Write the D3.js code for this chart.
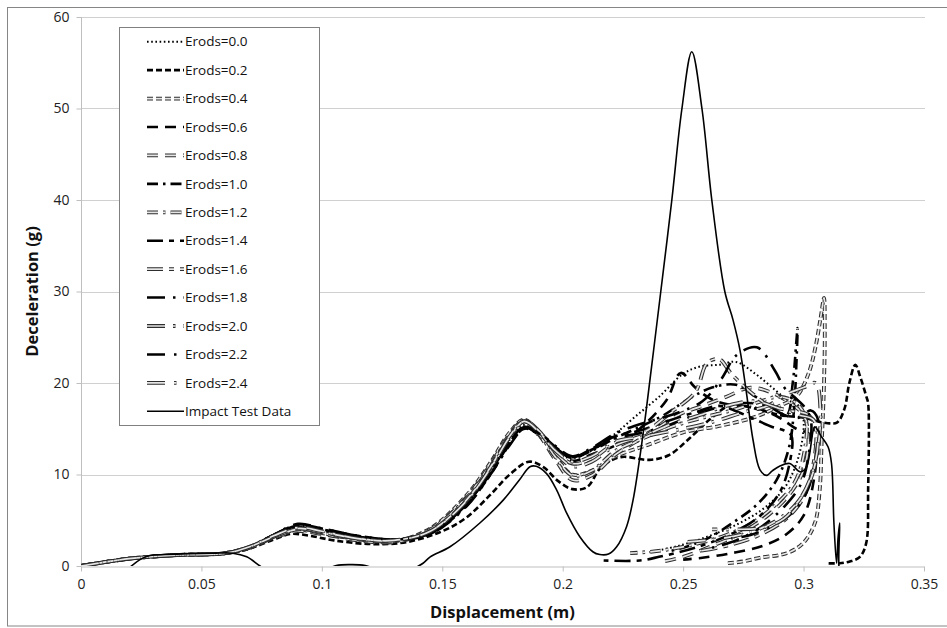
<!DOCTYPE html>
<html><head><meta charset="utf-8">
<script src="https://cdn.jsdelivr.net/npm/d3@7"></script>
<style>body{margin:0;background:#fff}svg{display:block}text{font-family:"Open Sans","Noto Sans",sans-serif}</style>
</head><body><svg id="c" width="947" height="628"></svg>
<script>
const seriesNames = ["Erods=0.0","Erods=0.2","Erods=0.4","Erods=0.6","Erods=0.8","Erods=1.0","Erods=1.2","Erods=1.4","Erods=1.6","Erods=1.8","Erods=2.0","Erods=2.2","Erods=2.4","Impact Test Data"];
const xTickValues = [0,0.05,0.1,0.15,0.2,0.25,0.3,0.35];
const xTickLabels = ["0","0.05","0.1","0.15","0.2","0.25","0.3","0.35"];
const yTickValues = [0,10,20,30,40,50,60];
const yTickLabels = ["0","10","20","30","40","50","60"];

const erods00 = [[0,0],[0.02,0.8],[0.04,1.2],[0.06,1.4],[0.07,2.1],[0.08,3.3],[0.09,4.2],[0.1,3.7],[0.115,3.0],[0.13,2.8],[0.145,3.8],[0.16,7.0],[0.17,10.5],[0.178,13.8],[0.184,15.4],[0.19,14.2],[0.197,12.4],[0.204,11.8],[0.212,12.6],[0.222,14.5],[0.23,16.3],[0.24,18.5],[0.25,21.0],[0.257,21.8],[0.265,22.0],[0.272,22.3],[0.28,21.0],[0.287,19.5],[0.293,18.2],[0.298,17.5],[0.3,16],[0.298,12],[0.292,8.5],[0.283,6.2],[0.272,4.5],[0.26,3.2],[0.248,2.2],[0.236,1.5]];
const erods02 = [[0,0],[0.02,0.8],[0.04,1.2],[0.06,1.35],[0.07,1.9],[0.08,2.9],[0.087,3.5],[0.095,3.3],[0.105,2.8],[0.12,2.4],[0.135,2.6],[0.15,3.8],[0.16,5.3],[0.17,7.8],[0.178,10.0],[0.186,11.4],[0.192,10.8],[0.198,9.3],[0.204,8.4],[0.21,8.6],[0.216,10.8],[0.224,11.9],[0.236,11.6],[0.244,12.1],[0.252,13.8],[0.261,16.0],[0.27,17.6],[0.28,17.2],[0.29,16.5],[0.3,16.2],[0.31,15.6],[0.314,15.7],[0.317,17.2],[0.319,20],[0.3215,22],[0.3235,20.7],[0.3262,18.4],[0.3268,17.8],[0.3268,8.3],[0.326,2.5],[0.3234,1.0],[0.3192,0.5],[0.315,0.3],[0.3095,0.3]];
const erods04 = [[0,0],[0.02,0.8],[0.04,1.2],[0.06,1.4],[0.07,2.0],[0.08,3.1],[0.09,3.9],[0.1,3.6],[0.115,2.9],[0.13,2.7],[0.145,4.1],[0.16,7.7],[0.17,11.3],[0.178,14.6],[0.184,16.0],[0.19,14.6],[0.197,12.0],[0.204,10.0],[0.212,10.4],[0.222,12.0],[0.235,13.2],[0.25,14.6],[0.265,15.3],[0.28,16.3],[0.29,17.5],[0.297,18.5],[0.302,21],[0.305,24],[0.307,27],[0.3085,29.3],[0.3088,26],[0.3085,20],[0.3078,15],[0.3075,13.4],[0.3067,8.3],[0.3047,4.7],[0.2998,2.5],[0.293,1.4],[0.2818,0.9],[0.275,0.5],[0.268,0.3]];
const erods06 = [[0,0],[0.02,0.8],[0.04,1.2],[0.06,1.4],[0.07,2.1],[0.08,3.3],[0.09,4.3],[0.1,3.9],[0.115,3.1],[0.13,2.8],[0.145,3.6],[0.16,6.8],[0.17,10.3],[0.178,13.6],[0.184,15.2],[0.19,14.3],[0.197,12.6],[0.204,11.5],[0.212,12.2],[0.222,13.2],[0.232,15.0],[0.243,18.1],[0.249,21.1],[0.255,19.5],[0.262,18.2],[0.27,17.6],[0.28,17.3],[0.29,16.2],[0.297,15.0],[0.302,14.5],[0.305,13],[0.304,9],[0.3,5.5],[0.293,3.5],[0.283,2.2],[0.27,1.4],[0.258,0.9],[0.25,0.7]];
const erods08 = [[0,0],[0.02,0.8],[0.04,1.2],[0.06,1.4],[0.07,2.0],[0.08,3.1],[0.09,3.8],[0.1,3.5],[0.115,2.8],[0.13,2.6],[0.145,3.9],[0.16,7.5],[0.17,11.1],[0.178,14.4],[0.184,15.9],[0.19,14.4],[0.197,11.6],[0.204,9.4],[0.212,9.9],[0.222,12.2],[0.235,14.3],[0.248,16.5],[0.258,17.5],[0.268,18.5],[0.278,19.5],[0.288,18.8],[0.296,17.5],[0.3,16.5],[0.302,14],[0.3,10.5],[0.294,7.8],[0.285,5.5],[0.274,3.6],[0.262,2.2],[0.25,1.0],[0.24,0.4]];
const erods10 = [[0,0],[0.02,0.8],[0.04,1.2],[0.06,1.4],[0.07,2.1],[0.08,3.4],[0.09,4.4],[0.1,4.0],[0.115,3.2],[0.13,2.9],[0.145,3.5],[0.16,6.6],[0.17,10.0],[0.178,13.3],[0.184,15.0],[0.19,14.4],[0.197,12.9],[0.204,11.9],[0.212,12.6],[0.222,14.0],[0.232,15.2],[0.242,16.5],[0.252,18.2],[0.262,19.5],[0.272,19.8],[0.28,18.5],[0.288,17.2],[0.293,16.5],[0.2955,20],[0.297,24.5],[0.2975,26],[0.297,22],[0.296,17],[0.294,13],[0.289,9.5],[0.281,6.8],[0.271,4.8],[0.26,3.0],[0.25,2.0],[0.244,1.6]];
const erods12 = [[0,0],[0.02,0.8],[0.04,1.2],[0.06,1.4],[0.07,2.0],[0.08,3.2],[0.09,4.0],[0.1,3.6],[0.115,2.9],[0.13,2.7],[0.145,4.0],[0.16,7.4],[0.17,10.9],[0.178,14.2],[0.184,15.8],[0.19,14.5],[0.197,11.9],[0.204,9.9],[0.212,10.4],[0.222,12.6],[0.232,13.8],[0.245,15.2],[0.258,16.2],[0.27,17],[0.28,17.8],[0.29,18.5],[0.297,17.8],[0.301,16],[0.3,12],[0.296,9],[0.288,6.6],[0.278,4.6],[0.266,3.2],[0.252,2.2],[0.238,1.6],[0.228,1.4]];
const erods14 = [[0,0],[0.02,0.8],[0.04,1.2],[0.06,1.4],[0.07,2.1],[0.08,3.4],[0.09,4.5],[0.1,4.0],[0.115,3.2],[0.13,2.9],[0.145,3.6],[0.16,6.8],[0.17,10.2],[0.178,13.5],[0.184,15.2],[0.19,14.6],[0.197,13.0],[0.204,11.9],[0.212,12.8],[0.222,14.2],[0.232,14.8],[0.243,15.8],[0.255,16.8],[0.265,17.5],[0.273,16.8],[0.28,16.0],[0.287,15.2],[0.292,14.8],[0.295,14.2],[0.294,11],[0.29,8],[0.282,5.5],[0.27,3.5],[0.255,2.0],[0.24,1.0],[0.232,0.6],[0.217,0.6]];
const erods16 = [[0,0],[0.02,0.8],[0.04,1.2],[0.06,1.4],[0.07,2.1],[0.08,3.2],[0.09,4.0],[0.1,3.7],[0.115,3.0],[0.13,2.8],[0.145,3.8],[0.16,7.1],[0.17,10.7],[0.178,14.1],[0.184,15.8],[0.19,14.7],[0.197,12.5],[0.204,11.2],[0.212,11.7],[0.222,13.5],[0.235,14.8],[0.245,16.8],[0.255,19],[0.26,22.2],[0.265,22.6],[0.27,21],[0.278,19],[0.286,17.5],[0.294,17],[0.302,16.5],[0.305,15],[0.304,11],[0.3,7.5],[0.292,5],[0.28,3.2],[0.268,2.2],[0.256,1.6]];
const erods18 = [[0,0],[0.02,0.8],[0.04,1.2],[0.06,1.4],[0.07,2.1],[0.08,3.4],[0.09,4.6],[0.1,4.1],[0.115,3.3],[0.13,2.9],[0.145,3.5],[0.16,6.5],[0.17,10.0],[0.178,13.2],[0.184,15.0],[0.19,14.6],[0.197,13.1],[0.204,12.0],[0.212,12.9],[0.222,14.5],[0.232,15.5],[0.245,16.5],[0.258,18],[0.266,20.5],[0.272,23.0],[0.2806,23.9],[0.288,21.4],[0.292,19.5],[0.296,18.5],[0.3,17.5],[0.303,16],[0.302,12],[0.299,9],[0.292,6.5],[0.282,4.2],[0.272,2.8],[0.262,2.0]];
const erods20 = [[0,0],[0.02,0.8],[0.04,1.2],[0.06,1.4],[0.07,2.1],[0.08,3.2],[0.09,4.1],[0.1,3.7],[0.115,3.0],[0.13,2.8],[0.145,3.8],[0.16,7.2],[0.17,10.8],[0.178,14.2],[0.184,15.9],[0.19,14.8],[0.197,12.4],[0.204,10.9],[0.212,11.4],[0.222,13.2],[0.235,14.2],[0.25,15],[0.263,15.8],[0.275,16.8],[0.285,17.5],[0.293,18.8],[0.3,19.5],[0.305,20],[0.307,17],[0.306,13],[0.303,9.5],[0.297,6.8],[0.289,5.0],[0.279,3.8],[0.266,3.0],[0.25,2.6]];
const erods22 = [[0,0],[0.02,0.8],[0.04,1.2],[0.06,1.4],[0.07,2.1],[0.08,3.4],[0.09,4.5],[0.1,4.1],[0.115,3.3],[0.13,2.9],[0.145,3.6],[0.16,6.7],[0.17,10.1],[0.178,13.4],[0.184,15.1],[0.19,14.5],[0.197,12.9],[0.204,11.8],[0.212,12.7],[0.222,14.0],[0.232,14.5],[0.245,15.5],[0.26,17],[0.275,17.8],[0.285,17.5],[0.292,16.5],[0.298,16.2],[0.303,17],[0.306,16],[0.305,12],[0.302,8.5],[0.296,6],[0.288,4.5],[0.278,3.4],[0.27,3.0]];
const erods24 = [[0,0],[0.02,0.8],[0.04,1.2],[0.06,1.4],[0.07,2.1],[0.08,3.3],[0.09,4.2],[0.1,3.8],[0.115,3.0],[0.13,2.8],[0.145,3.8],[0.16,7.1],[0.17,10.7],[0.178,14.1],[0.184,15.8],[0.19,14.7],[0.197,12.6],[0.204,11.4],[0.212,12.0],[0.222,13.6],[0.233,14.2],[0.245,15.5],[0.257,16.5],[0.268,17.5],[0.28,18],[0.29,17.2],[0.298,16.5],[0.304,16],[0.306,14],[0.304,10.5],[0.299,7.5],[0.292,5.2],[0.283,4.2],[0.272,4.0],[0.262,4.0]];
const impactTest = [[0.0196,-0.3],[0.0245,0.7],[0.0287,1.15],[0.035,1.25],[0.045,1.35],[0.055,1.4],[0.063,1.4],[0.0688,1.0],[0.0743,0],[0.08,-1.0],[0.09,-1.4],[0.1,-0.6],[0.106,0.05],[0.112,0.15],[0.118,0.05],[0.125,-0.6],[0.132,-1.0],[0.138,-0.3],[0.142,0.3],[0.145,1.0],[0.1532,2.1],[0.1656,4.7],[0.1753,7.2],[0.182,9.4],[0.1864,10.85],[0.189,10.9],[0.1933,10.1],[0.1975,8.3],[0.2016,5.8],[0.2071,3.2],[0.2125,1.56],[0.2154,1.25],[0.219,1.3],[0.2224,2.1],[0.2265,4.3],[0.2292,7.2],[0.2334,14.5],[0.2369,21.8],[0.2403,29.1],[0.2453,40],[0.2495,50],[0.2536,56.2],[0.2578,50],[0.2619,40],[0.2673,30],[0.2707,26.9],[0.2736,23.6],[0.2763,18.9],[0.279,13.8],[0.2819,10.5],[0.2846,9.9],[0.287,10.4],[0.29,10.9],[0.2943,11.2],[0.2985,10.3],[0.301,10.7],[0.304,14.8],[0.3047,15.2],[0.3075,14.1],[0.3102,13.0],[0.3116,11.2],[0.3126,4.7],[0.3137,0.3],[0.3143,3],[0.315,4.7],[0.3147,-0.1],[0.316,-2]];

const seriesData = [erods00,erods02,erods04,erods06,erods08,erods10,erods12,erods14,erods16,erods18,erods20,erods22,erods24,impactTest];

const styles = [
  {kind:"black", w:2, dash:"1.6,2.6"},
  {kind:"black", w:2.6, dash:"6,3"},
  {kind:"grey", dash:"6,3"},
  {kind:"black", w:2.6, dash:"11,7"},
  {kind:"grey", dash:"11,7"},
  {kind:"black", w:2.6, dash:"11,5,2.5,5"},
  {kind:"grey", dash:"11,5,2.5,5"},
  {kind:"black", w:2.6, dash:"16,6,5,6"},
  {kind:"grey", dash:"16,6,5,6"},
  {kind:"black", w:2.6, dash:"18,8,2.5,8"},
  {kind:"grey", dash:"18,8,2.5,8"},
  {kind:"black", w:2.6, dash:"18,9,2.5,9"},
  {kind:"grey", dash:"18,9,2.5,9"},
  {kind:"solid", w:1.6, dash:null}
];

const svg = d3.select("#c");
const L=81, R=924, T=17, B=566;
const x = d3.scaleLinear().domain([0,0.35]).range([L,R]);
const y = d3.scaleLinear().domain([0,60]).range([B,T]);

svg.append("rect").attr("x",7.5).attr("y",7.5).attr("width",960).attr("height",618.5)
  .attr("fill","none").attr("stroke","#868686").attr("stroke-width",1);

svg.append("g").selectAll("line").data(yTickValues.filter(v=>v>0)).join("line")
  .attr("x1",L).attr("x2",R+1).attr("y1",d=>Math.round(y(d))+0.5).attr("y2",d=>Math.round(y(d))+0.5)
  .attr("stroke","#d0d0d0").attr("stroke-width",1);

const xAxis = d3.axisBottom(x).tickValues(xTickValues).tickFormat((d,i)=>xTickLabels[i]).tickSize(5).tickPadding(8).tickSizeOuter(0);
const gx = svg.append("g").attr("transform",`translate(0,${B+0.5})`).call(xAxis);
const yAxis = d3.axisLeft(y).tickValues(yTickValues).tickFormat((d,i)=>yTickLabels[i]).tickSize(5).tickPadding(7).tickSizeOuter(0);
const gy = svg.append("g").attr("transform",`translate(${L+0.5},0)`).call(yAxis);
[gx,gy].forEach(g=>{
  g.select(".domain").attr("stroke","#bfbfbf");
  g.selectAll(".tick line").attr("stroke","#bfbfbf");
  g.selectAll(".tick text").attr("fill","#222").style("font-size","14px").style("font-family","'Open Sans',sans-serif");
});
gy.select(".domain").attr("d",`M0,${y(60)}V${B}`);

svg.append("text").attr("x",(L+R)/2).attr("y",618).attr("text-anchor","middle")
  .style("font-size","16.5px").style("font-weight","bold").attr("fill","#111").text("Displacement (m)");
svg.append("text").attr("transform",`translate(38,${(T+B)/2}) rotate(-90)`).attr("text-anchor","middle")
  .style("font-size","16.5px").style("font-weight","bold").attr("fill","#111").text("Deceleration (g)");

svg.append("clipPath").attr("id","clip").append("rect").attr("x",L).attr("y",T-2).attr("width",R-L+2).attr("height",B-T+2);

const line = d3.line().x(d=>x(d[0])).y(d=>y(d[1])).curve(d3.curveCatmullRom.alpha(0.5));
const plot = svg.append("g").attr("clip-path","url(#clip)");

function drawStyled(g, dPath, st){
  if(st.kind==="grey"){
    g.append("path").attr("d",dPath).attr("fill","none").attr("stroke","#2e2e2e").attr("stroke-width",3.8)
      .attr("stroke-dasharray",st.dash).attr("stroke-linejoin","round");
    g.append("path").attr("d",dPath).attr("fill","none").attr("stroke","#e6e6e6").attr("stroke-width",1.7)
      .attr("stroke-dasharray",st.dash).attr("stroke-linejoin","round");
  } else {
    const p = g.append("path").attr("d",dPath).attr("fill","none").attr("stroke","#000").attr("stroke-width",st.w).attr("stroke-linejoin","round");
    if(st.dash) p.attr("stroke-dasharray",st.dash);
  }
}

seriesData.forEach((data,i)=>{
  drawStyled(plot.append("g"), line(data), styles[i]);
});

const lg = svg.append("g");
lg.append("rect").attr("x",119.5).attr("y",27.5).attr("width",200).attr("height",398).attr("fill","#fff").attr("stroke","#808080");
seriesNames.forEach((name,i)=>{
  const cy = 41.7 + i*28.43;
  const gi = lg.append("g");
  drawStyled(gi, `M147,${cy}H184`, styles[i]);
  lg.append("text").attr("x",185).attr("y",cy).attr("dy","0.35em").style("font-size","13.5px").attr("fill","#111").text(name);
});
</script></body></html>
